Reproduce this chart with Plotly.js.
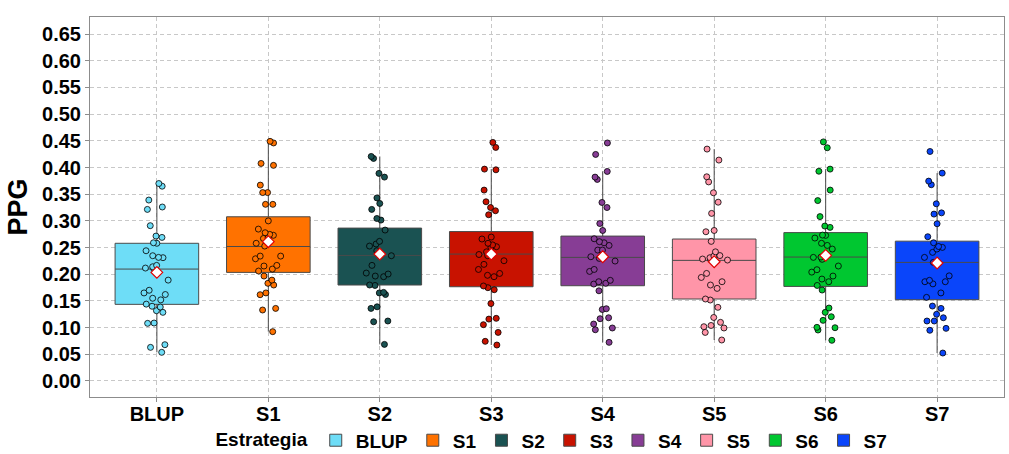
<!DOCTYPE html>
<html>
<head>
<meta charset="utf-8">
<script src="https://cdn.plot.ly/plotly-3.0.1.min.js"></script>
<style>html,body{margin:0;padding:0;background:#fff;}#chart{width:1009px;height:454px;}</style>
</head>
<body>
<div id="chart"></div>
<script>
const categories = ['BLUP','S1','S2','S3','S4','S5','S6','S7'];
const colors = ['#6EDDF7','#FF7200','#1A5252','#C81200','#873D95','#FF95A8','#00C730','#0A45FA'];

const q1 = [0.1436, 0.2035, 0.1798, 0.1766, 0.1785, 0.1536, 0.1772, 0.1523];
const medians = [0.2097, 0.2520, 0.2353, 0.2378, 0.2316, 0.2260, 0.2322, 0.2222];
const q3 = [0.2580, 0.3077, 0.2865, 0.2800, 0.2715, 0.2660, 0.2780, 0.2620];
const lowerWhisker = [0.0537, 0.0924, 0.0686, 0.0674, 0.0724, 0.0768, 0.0762, 0.0524];
const upperWhisker = [0.3700, 0.4490, 0.4207, 0.3970, 0.3926, 0.4345, 0.3970, 0.3895];
const means = [0.2035, 0.2610, 0.2378, 0.2378, 0.2328, 0.2235, 0.2353, 0.2210];

const ptsBLUP = [0.370,0.365,0.339,0.3215,0.326,0.291,0.2715,0.269,0.259,0.258,0.244,0.2347,0.2316,0.231,0.2166,0.211,0.214,0.2116,0.189,0.170,0.162,0.165,0.155,0.152,0.144,0.140,0.1386,0.1317,0.1286,0.108,0.1086,0.068,0.063,0.0537];
const ptsS1 = [0.449,0.446,0.404,0.4076,0.367,0.353,0.353,0.331,0.331,0.300,0.2846,0.2778,0.2747,0.273,0.268,0.267,0.258,0.2528,0.234,0.234,0.229,0.2154,0.2097,0.206,0.2166,0.1966,0.189,0.183,0.1798,0.165,0.1617,0.136,0.133,0.0924];
const ptsS2 = [0.4207,0.417,0.389,0.382,0.343,0.3326,0.3215,0.3045,0.3015,0.2828,0.2616,0.2566,0.2528,0.244,0.2347,0.2166,0.2022,0.1966,0.1954,0.2004,0.179,0.1798,0.166,0.162,0.165,0.136,0.139,0.111,0.1124,0.0686];
const ptsS3 = [0.447,0.4376,0.397,0.3957,0.3577,0.3358,0.325,0.319,0.3115,0.2697,0.266,0.258,0.255,0.2516,0.2503,0.242,0.237,0.2347,0.2253,0.2185,0.209,0.2015,0.1954,0.198,0.178,0.171,0.1748,0.145,0.1174,0.116,0.1055,0.091,0.0743,0.0674];
const ptsS4 = [0.446,0.4245,0.3926,0.382,0.3777,0.3345,0.325,0.295,0.282,0.2665,0.259,0.261,0.254,0.2453,0.2453,0.2328,0.2297,0.2247,0.2053,0.209,0.1886,0.1816,0.183,0.186,0.169,0.1354,0.134,0.1167,0.1185,0.1067,0.0993,0.096,0.0724];
const ptsS5 = [0.4345,0.4139,0.373,0.3826,0.3527,0.335,0.314,0.282,0.2796,0.2616,0.242,0.235,0.234,0.228,0.2266,0.2285,0.231,0.2015,0.194,0.186,0.1798,0.1735,0.1517,0.1536,0.138,0.119,0.1099,0.104,0.1017,0.0993,0.091,0.0768];
const ptsS6 = [0.448,0.437,0.393,0.397,0.3577,0.338,0.308,0.2903,0.2878,0.2734,0.2728,0.2678,0.258,0.254,0.2472,0.2322,0.228,0.2316,0.2347,0.2154,0.2085,0.204,0.1966,0.191,0.186,0.179,0.1704,0.1367,0.1286,0.1204,0.1136,0.0998,0.1005,0.0955,0.0762];
const ptsS7 = [0.430,0.3895,0.3745,0.3677,0.332,0.315,0.3127,0.2946,0.2703,0.259,0.252,0.2503,0.2472,0.241,0.2316,0.2222,0.197,0.186,0.186,0.182,0.1886,0.165,0.1567,0.1404,0.136,0.125,0.1185,0.1124,0.1124,0.0986,0.095,0.0524];
const points = [ptsBLUP, ptsS1, ptsS2, ptsS3, ptsS4, ptsS5, ptsS6, ptsS7];

const yTickVals = [0,0.05,0.10,0.15,0.20,0.25,0.30,0.35,0.40,0.45,0.50,0.55,0.60,0.65];

const FONT = 'Liberation Sans, Arial, sans-serif';
const traces = [];
categories.forEach((cat, i) => {
  traces.push({
    type: 'box', name: cat, x: [cat],
    q1: [q1[i]], median: [medians[i]], q3: [q3[i]],
    lowerfence: [lowerWhisker[i]], upperfence: [upperWhisker[i]],
    fillcolor: colors[i], line: {color: '#4a4a4a', width: 1},
    marker: {color: colors[i]},
    whiskerwidth: 0, width: 0.75, boxpoints: false, legendgroup: cat
  });
});
categories.forEach((cat, i) => {
  traces.push({
    type: 'box', name: cat, x: points[i].map(() => cat), y: points[i],
    boxpoints: 'all', jitter: 0.36, pointpos: 0,
    fillcolor: 'rgba(0,0,0,0)', line: {color: 'rgba(0,0,0,0)', width: 0},
    marker: {color: colors[i], size: 6, line: {color: '#000', width: 0.8}},
    whiskerwidth: 0, width: 0.75, showlegend: false, legendgroup: cat, hoveron: 'points'
  });
});
traces.push({
  type: 'scatter', mode: 'markers', x: categories, y: means, showlegend: false,
  marker: {symbol: 'diamond', size: 9, color: '#ffffff', line: {color: '#e00000', width: 1.2}}
});

const layout = {
  width: 1009, height: 454,
  margin: {l: 90, r: 5, t: 17, b: 57},
  paper_bgcolor: '#ffffff', plot_bgcolor: '#ffffff',
  boxmode: 'overlay',
  font: {family: FONT, color: '#000'},
  xaxis: {
    type: 'category', categoryorder: 'array', categoryarray: categories,
    range: [-0.6, 7.6],
    showgrid: true, gridcolor: '#c8c8c8', griddash: '4px,3px', gridwidth: 1,
    showline: true, mirror: true, linecolor: '#8c8c8c', linewidth: 1,
    ticks: 'outside', ticklen: 4, tickcolor: '#8c8c8c',
    tickfont: {family: FONT, size: 20, weight: 'bold', color: '#000'},
    ticklabelstandoff: -5,
    zeroline: false
  },
  yaxis: {
    range: [-0.03, 0.682],
    tickvals: yTickVals, tickformat: '.2f',
    showgrid: true, gridcolor: '#c8c8c8', griddash: '4px,3px', gridwidth: 1,
    showline: true, mirror: true, linecolor: '#8c8c8c', linewidth: 1,
    ticks: 'outside', ticklen: 4, tickcolor: '#8c8c8c',
    tickfont: {family: FONT, size: 20, weight: 'bold', color: '#000'},
    zeroline: false,
    title: {text: 'PPG', font: {family: FONT, size: 27, weight: 'bold', color: '#000'}, standoff: 6}
  },
  legend: {
    orientation: 'h', x: 0.548, xanchor: 'center', xref: 'container',
    y: 0.03, yanchor: 'middle', yref: 'container',
    font: {family: FONT, size: 19, weight: 'bold', color: '#000'},
    title: {text: 'Estrategia', side: 'left', font: {family: FONT, size: 19, weight: 'bold', color: '#000'}},
    bgcolor: 'rgba(0,0,0,0)', itemclick: false
  },
  showlegend: true
};

Plotly.newPlot('chart', traces, layout, {displayModeBar: false, staticPlot: true});
</script>
</body>
</html>
